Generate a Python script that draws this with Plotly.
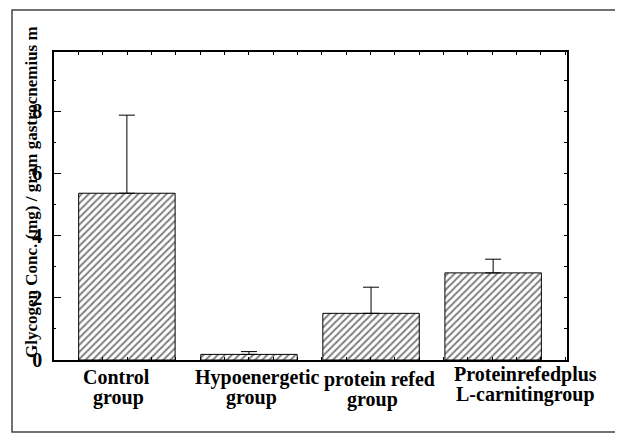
import plotly.graph_objects as go

# ---- data ----
groups = ["Control group", "Hypoenergetic group", "protein refed group", "Protein refed plus L-carnitine group"]
glycogen = [5.36, 0.18, 1.50, 2.80]
glycogen_err = [2.51, 0.09, 0.84, 0.44]
label_line1 = ["Control", "Hypoenergetic", "protein refed", "Proteinrefedplus"]
label_line2 = ["group", "group", "group", "L-carnitingroup"]
y_ticks = [0, 2, 4, 6, 8]
y_title = "Glycogen Conc. (mg) / gram gastrocnemius m"

OFF = 8  # page body margin
W, H = 623 - OFF, 440 - OFF
L, T = 54 - OFF, 52 - OFF
R = W - (567 - OFF)
B = H - (360 - OFF)
PW, PH = W - L - R, H - T - B

def px_x(px):  # page px -> paper
    return (px - OFF - L) / PW

def px_y(py):
    return (H - B - (py - OFF)) / PH

SERIF = "Liberation Serif, Times New Roman, serif"

fig = go.Figure()
fig.add_trace(go.Bar(
    x=groups, y=glycogen, width=0.79,
    marker=dict(color="white", line=dict(color="black", width=1),
                pattern=dict(shape="/", fgcolor="black", bgcolor="white", size=5, solidity=0.4)),
    error_y=dict(type="data", array=glycogen_err, arrayminus=[0]*len(glycogen_err),
                 symmetric=False, color="black", thickness=1, width=8),
    showlegend=False,
))
fig.add_trace(go.Scatter(x=[], y=[], xaxis="x2", yaxis="y2", showlegend=False))

fig.update_layout(
    width=W, height=H,
    margin=dict(l=L, r=R, t=T, b=B),
    paper_bgcolor="white", plot_bgcolor="white",
    xaxis=dict(type="category", range=[-0.597, 3.605], showticklabels=False,
               showline=False, showgrid=False, ticks="", zeroline=False),
    xaxis2=dict(overlaying="x", anchor="y", side="bottom", range=[0, 21.07], dtick=1,
                showticklabels=False, showline=True, linecolor="black", linewidth=1.5,
                mirror="allticks", ticks="inside", ticklen=3, tickcolor="black",
                showgrid=False, zeroline=False),
    yaxis=dict(range=[0, 9.9], tickvals=y_ticks, ticktext=[str(v) for v in y_ticks],
               ticks="inside", ticklen=7, tickcolor="black", showline=True,
               linecolor="black", linewidth=1.5, showgrid=False, zeroline=False,
               ticklabelstandoff=6,
               minor=dict(dtick=1, ticks="inside", ticklen=2, tickcolor="black", showgrid=False),
               tickfont=dict(family=SERIF, size=20, color="black", weight="bold")),
    yaxis2=dict(overlaying="y", side="right", anchor="x", range=[0, 9.9], dtick=1,
                showticklabels=False, ticks="inside", ticklen=3, tickcolor="black",
                showline=True, linecolor="black", linewidth=1.5, showgrid=False,
                zeroline=False),
)

# outer frame
fig.add_shape(type="rect", xref="paper", yref="paper",
              x0=px_x(12), x1=px_x(616), y0=px_y(432), y1=px_y(10),
              line=dict(color="#444", width=1.5), fillcolor="rgba(0,0,0,0)", layer="below")

# y title
fig.add_annotation(text=y_title, textangle=-90, xref="paper", yref="paper",
                   x=px_x(31), y=px_y(360), xanchor="center", yanchor="bottom",
                   showarrow=False,
                   font=dict(family=SERIF, size=17, color="black", weight="bold"))

# category labels
row1_x = [116.5, 257, 379, 525]
row2_x = [118, 251, 372, 525]
row1_base = [383, 383, 385, 380]
row2_base = [403, 403, 405, 400]
FS = 20
for i in range(len(groups)):
    for txt, xx, bb in ((label_line1[i], row1_x[i], row1_base[i]),
                        (label_line2[i], row2_x[i], row2_base[i])):
        fig.add_annotation(text=txt, xref="paper", yref="paper",
                           x=px_x(xx), y=px_y(bb - 0.3 * FS), xanchor="center", yanchor="middle",
                           showarrow=False,
                           font=dict(family=SERIF, size=FS, color="black", weight="bold"))

fig.write_html("out.html")
